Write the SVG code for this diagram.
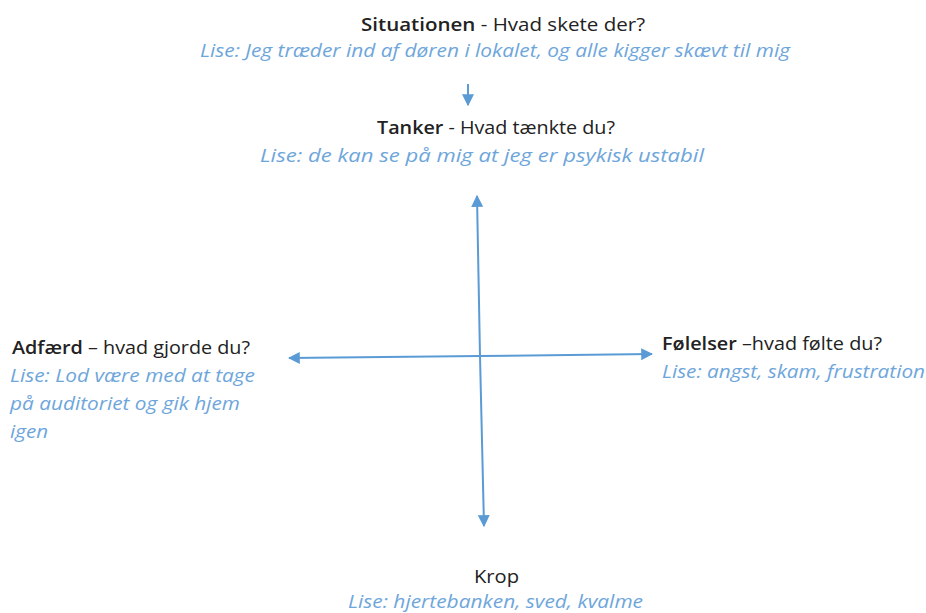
<svg xmlns="http://www.w3.org/2000/svg" width="926" height="613" viewBox="0 0 926 613">
<style>
text{font-family:"Open Sans",Lato,"Liberation Sans",sans-serif;font-size:18px}
.h{fill:#222222}
.b{font-weight:600}
.i{fill:#6ea6db;font-style:italic}
.ax{stroke:#5b9bd5;stroke-width:2;fill:none;marker-end:url(#ah)}
</style>
<defs>
<marker id="ah" viewBox="0 0 10 10" refX="9" refY="5" markerWidth="6" markerHeight="6.5" orient="auto" markerUnits="strokeWidth">
<path d="M0,0 L10,5 L0,10 z" fill="#5b9bd5"/>
</marker>
</defs>
<rect width="926" height="613" fill="#ffffff"/>
<g id="connectors">
<line class="ax" x1="468" y1="84" x2="468" y2="105"/>
<line class="ax" x1="480" y1="356" x2="477" y2="196"/>
<line class="ax" x1="480" y1="356" x2="484" y2="526"/>
<line class="ax" x1="480" y1="356" x2="289" y2="358"/>
<line class="ax" x1="480" y1="356" x2="652" y2="354"/>
</g>
<g id="situationen">
<text x="361" y="31" class="h" textLength="284" lengthAdjust="spacingAndGlyphs"><tspan class="b">Situationen</tspan> - Hvad skete der?</text>
<text x="200" y="57" class="i" textLength="590" lengthAdjust="spacingAndGlyphs">Lise: Jeg træder ind af døren i lokalet, og alle kigger skævt til mig</text>
</g>
<g id="tanker">
<text x="377" y="134" class="h" textLength="238" lengthAdjust="spacingAndGlyphs"><tspan class="b">Tanker</tspan> - Hvad tænkte du?</text>
<text x="260" y="162" class="i" textLength="444" lengthAdjust="spacingAndGlyphs">Lise: de kan se på mig at jeg er psykisk ustabil</text>
</g>
<g id="adfaerd">
<text x="12" y="354" class="h" textLength="238" lengthAdjust="spacingAndGlyphs"><tspan class="b">Adfærd</tspan> – hvad gjorde du?</text>
<text x="10" y="382" class="i" textLength="245" lengthAdjust="spacingAndGlyphs">Lise: Lod være med at tage</text>
<text x="10" y="410" class="i" textLength="230" lengthAdjust="spacingAndGlyphs">på auditoriet og gik hjem</text>
<text x="10" y="438" class="i" textLength="38" lengthAdjust="spacingAndGlyphs">igen</text>
</g>
<g id="foelelser">
<text x="662" y="350" class="h" textLength="220" lengthAdjust="spacingAndGlyphs"><tspan class="b">Følelser</tspan> –hvad følte du?</text>
<text x="662" y="378" class="i" textLength="263" lengthAdjust="spacingAndGlyphs">Lise: angst, skam, frustration</text>
</g>
<g id="krop">
<text x="474" y="583" class="h" textLength="45" lengthAdjust="spacingAndGlyphs">Krop</text>
<text x="348" y="608" class="i" textLength="295" lengthAdjust="spacingAndGlyphs">Lise: hjertebanken, sved, kvalme</text>
</g>
</svg>
